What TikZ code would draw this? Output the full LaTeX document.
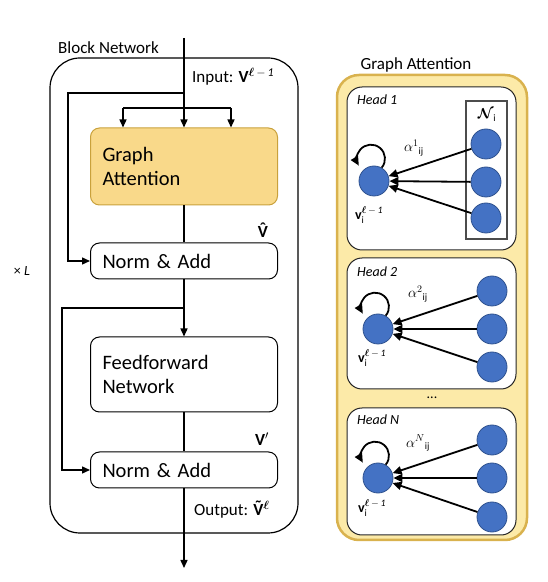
\documentclass[tikz,border=0pt]{standalone}
\usepackage{fontspec}
\setmainfont{Carlito}
\usepackage{amsmath,bm}
\usetikzlibrary{arrows.meta}
\definecolor{gafill}{HTML}{F9D98A}
\definecolor{gadraw}{HTML}{C9A13C}
\definecolor{outfill}{HTML}{FCEAA8}
\definecolor{outdraw}{HTML}{D9B24E}
\definecolor{nodeblue}{HTML}{4472C4}
\definecolor{nodeedge}{HTML}{2F528F}
\newcommand{\myacc}[2]{\ooalign{#1\cr\hidewidth\raisebox{0.2em}{#2}\hidewidth\cr}}
\begin{document}
\begin{tikzpicture}[x=1pt,y=1pt,
  arr/.style={line width=1.4pt,-{Triangle[length=8pt,width=7pt]}},
  ln/.style={line width=1.4pt},
  blk/.style={draw, line width=1pt, fill=white, rounded corners=9pt, text width=163pt, inner xsep=12pt, align=left, font=\fontsize{20.5}{24}\selectfont},
  lbl/.style={font=\fontsize{17}{20}\selectfont, inner sep=0pt},
  head/.style={draw=black!85, fill=white, line width=1pt, rounded corners=15pt, minimum width=169pt},
  hlab/.style={font=\fontsize{14}{16}\selectfont\itshape, anchor=west, inner sep=0pt},
  vert/.style={circle, fill=nodeblue, draw=nodeedge, line width=0.8pt, minimum size=30pt, inner sep=0pt},
  garr/.style={line width=1.8pt, -{Triangle[length=9pt,width=8pt]}},
  small/.style={font=\fontsize{14}{16}\selectfont, inner sep=0pt}
]
\useasboundingbox (0,0) rectangle (548,582);

% ---------------- left: block network ----------------
\node[lbl, anchor=west] (blab) at (58,534) {Block Network};
\draw[line width=1.2pt, rounded corners=30pt] (50,49) rectangle (298,524);
\node[font=\fontsize{14}{16}\selectfont, inner sep=0pt] (times) at (22,311) {× \textit{L}};

\node[blk, fill=gafill, draw=gadraw, minimum height=77pt] (ga) at (184,415.5) {Graph\\Attention};
\node[blk, minimum height=36pt] (na1) at (184,321) {Norm \& Add};
\node[blk, minimum height=75pt] (ff) at (184,207.5) {Feedforward\\Network};
\node[blk, minimum height=36pt] (na2) at (184,112) {Norm \& Add};

\coordinate (top) at (184,544);
\coordinate (b1) at (184,489);
\coordinate (b2) at (68,489);
\coordinate (s1) at (123,474);
\coordinate (s2) at (231,474);
\coordinate (c1) at (184,274);
\coordinate (c2) at (62,274);
\coordinate (bot) at (184,14);

\draw[arr] (top) -- (ga.north);
\draw[arr] (b1) -- (b2) |- (na1.west);
\draw[ln] (s1) -- (s2);
\draw[arr] (s1) -- (s1 |- ga.north);
\draw[arr] (s2) -- (s2 |- ga.north);
\draw[ln] (ga.south) -- (na1.north);
\draw[arr] (na1.south) -- (ff.north);
\draw[arr] (c1) -- (c2) |- (na2.west);
\draw[ln] (ff.south) -- (na2.north);
\draw[arr] (na2.south) -- (bot);

\node[lbl, anchor=west] (inlab) at (192,505) {Input: \textbf{V}$^{\bm{\ell}\,-\,\mathit{1}}$};
\node[lbl] (vhat) at (263,350) {\textbf{\myacc{V}{ˆ}}};
\node[lbl] (vprime) at (262,143) {\textbf{V}$'$};
\node[lbl, anchor=west] (outlab) at (194,72) {Output: \textbf{\myacc{V}{˜}}$^{\bm{\ell}}$};

% ---------------- right: graph attention ----------------
\node[lbl] (galab) at (416,517) {Graph Attention};
\draw[draw=outdraw, fill=outfill, line width=2.5pt, rounded corners=22pt] (337,42) rectangle (527,507);

\node[head, minimum height=163pt] (h1) at (431.5,413.5) {};
\node[head, minimum height=131pt] (h2) at (431.5,258.5) {};
\node[head, minimum height=127pt] (hN) at (431.5,110.5) {};
\node[small] (dots) at (432,184) {...};

\node[hlab] (h1lab) at (357,482) {Head 1};
\node[hlab] (h2lab) at (357,310) {Head 2};
\node[hlab] (hNlab) at (357,162) {Head N};

% head 1
\node[draw=black!70, line width=1.5pt, minimum width=41pt, minimum height=138pt, inner sep=0pt] (nb) at (486.5,412) {};
\node[small] (nlab) at (487,467) {$\bm{\mathcal{N}}_{\mathrm{i}}$};
\node[vert] (a1) at (486,438) {};
\node[vert] (a2) at (486,400) {};
\node[vert] (a3) at (486,364) {};
\node[vert] (ac) at (374,401) {};
\draw[garr] (a1) -- (ac);
\draw[garr] (a2) -- (ac);
\draw[garr] (a3) -- (ac);
\draw[garr] (ac.60) arc[start angle=-40, end angle=210, radius=14];
\node[small] (al1) at (414,434) {$\alpha^{1}{}_{\mathrm{ij}}$};
\node[small] (v1) at (369,367) {\textbf{v}$_{\mathrm{i}}^{\bm{\ell}\,-\,\mathit{1}}$};

% head 2
\node[vert] (b1n) at (492,291) {};
\node[vert] (b2n) at (492,253) {};
\node[vert] (b3n) at (492,215) {};
\node[vert] (bc) at (378,253) {};
\draw[garr] (b1n) -- (bc);
\draw[garr] (b2n) -- (bc);
\draw[garr] (b3n) -- (bc);
\draw[garr] (bc.60) arc[start angle=-40, end angle=210, radius=14];
\node[small] (al2) at (418,288) {$\alpha^{2}{}_{\mathrm{ij}}$};
\node[small] (v2) at (372,224) {\textbf{v}$_{\mathrm{i}}^{\bm{\ell}\,-\,\mathit{1}}$};

% head N
\node[vert] (d1n) at (492,142) {};
\node[vert] (d2n) at (492,104) {};
\node[vert] (d3n) at (492,65) {};
\node[vert] (dc) at (378,104) {};
\draw[garr] (d1n) -- (dc);
\draw[garr] (d2n) -- (dc);
\draw[garr] (d3n) -- (dc);
\draw[garr] (dc.60) arc[start angle=-40, end angle=210, radius=14];
\node[small] (alN) at (418,139) {$\alpha^{N}{}_{\mathrm{ij}}$};
\node[small] (vN) at (372,74) {\textbf{v}$_{\mathrm{i}}^{\bm{\ell}\,-\,\mathit{1}}$};
\end{tikzpicture}
\end{document}
